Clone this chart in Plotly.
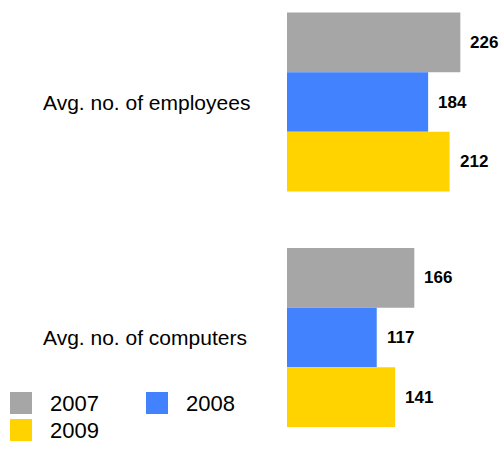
import plotly.graph_objects as go

# Data
categories = ["Avg. no. of employees", "Avg. no. of computers"]
years = ["2007", "2008", "2009"]
values_2007 = [226, 166]
values_2008 = [184, 117]
values_2009 = [212, 141]
series_values = [values_2007, values_2008, values_2009]
colors = ["#A6A6A6", "#4282FF", "#FFD300"]

# Canvas and plot-area geometry (pixels)
W, H = 504, 450
L, R, T, B = 287, 0, 0, 0
PW, PH = W - L - R, H - T - B
BARGAP = 0.24
FONT = "Liberation Sans, Arial, Helvetica, sans-serif"


def px_x(p):
    return (p - L) / PW


def px_y(p):
    return 1 - (p - T) / PH


ypos = list(range(len(categories)))

fig = go.Figure()
for name, vals, col in zip(years, series_values, colors):
    fig.add_trace(go.Bar(
        x=vals, y=ypos, orientation="h", name=name,
        marker=dict(color=col, line=dict(width=0)),
        showlegend=False, hoverinfo="x+name",
    ))

# Value labels just past the end of each bar
n = len(years)
bw = (1 - BARGAP) / n
annotations = []
for i, vals in enumerate(series_values):
    off = (i - (n - 1) / 2) * bw
    for j, v in enumerate(vals):
        annotations.append(dict(
            x=v, y=ypos[j] + off, xref="x", yref="y", text=f"<b>{v}</b>",
            showarrow=False, xanchor="left", yanchor="middle", xshift=8,
            font=dict(family=FONT, size=17, color="#000000"),
        ))

# Category labels on the left
for j, cat in enumerate(categories):
    annotations.append(dict(
        x=px_x(41), y=ypos[j], xref="paper", yref="y", text=cat,
        showarrow=False, xanchor="left", yanchor="middle",
        font=dict(family=FONT, size=21, color="#000000"),
    ))

# Legend drawn as colour squares with year labels (two columns)
shapes = []
col_x = [10, 146]
row_y = [403, 430]
sq = 22
for k, (name, col) in enumerate(zip(years, colors)):
    cx = col_x[k % 2]
    cy = row_y[k // 2]
    shapes.append(dict(
        type="rect", xref="paper", yref="paper",
        x0=px_x(cx), x1=px_x(cx + sq), y0=px_y(cy + sq / 2), y1=px_y(cy - sq / 2),
        fillcolor=col, line=dict(width=0), layer="above",
    ))
    annotations.append(dict(
        x=px_x(cx + 38), y=px_y(cy), xref="paper", yref="paper", text=name,
        showarrow=False, xanchor="left", yanchor="middle",
        font=dict(family=FONT, size=22, color="#000000"),
    ))

# y range so the two groups sit at their vertical positions
top_px, step_px = 102, 235.5
r_top = -(top_px - T) / step_px
r_bot = r_top + PH / step_px

fig.update_layout(
    width=W, height=H,
    margin=dict(l=L, r=R, t=T, b=B, pad=0),
    paper_bgcolor="white", plot_bgcolor="white",
    barmode="group", bargap=BARGAP, bargroupgap=0,
    xaxis=dict(range=[0, PW / 0.767], visible=False, fixedrange=True),
    yaxis=dict(range=[r_bot, r_top], visible=False, fixedrange=True),
    annotations=annotations, shapes=shapes,
    showlegend=False,
    font=dict(family=FONT),
)

fig.write_html("out.html")
